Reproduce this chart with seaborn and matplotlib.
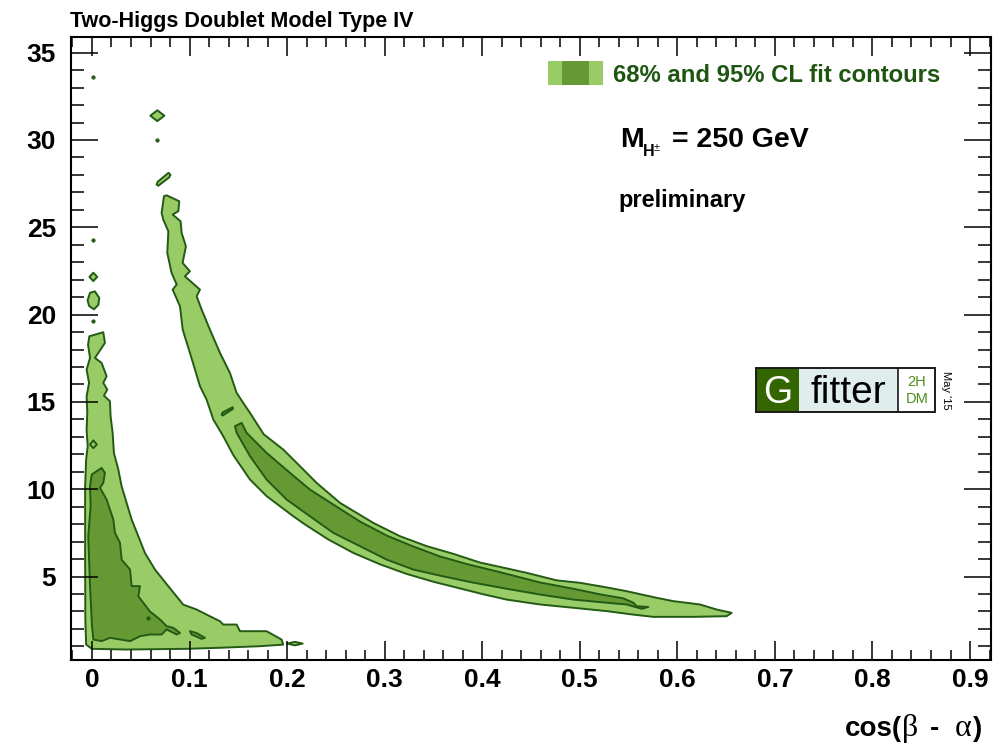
import matplotlib
matplotlib.use("Agg")
import matplotlib.pyplot as plt
import seaborn as sns
from matplotlib.patches import Rectangle
from matplotlib.lines import Line2D
from matplotlib.ticker import MultipleLocator, FixedLocator

# ---------------- data ----------------
xtick_vals = [0.0, 0.1, 0.2, 0.3, 0.4, 0.5, 0.6, 0.7, 0.8, 0.9]
xtick_labels = ["0", "0.1", "0.2", "0.3", "0.4", "0.5", "0.6", "0.7", "0.8", "0.9"]
ytick_vals = [5, 10, 15, 20, 25, 30, 35]
ytick_labels = ["5", "10", "15", "20", "25", "30", "35"]

# 95% CL region near cos(b-a)=0
left95_x = [-0.0027, 0.0116, 0.0133, 0.0031, 0.0099, 0.0150, 0.0116, 0.0157, 0.0123, 0.0184,
            0.0191, 0.0212, 0.0225, 0.0270, 0.0304, 0.0355, 0.0407, 0.0475, 0.0543, 0.0646,
            0.0782, 0.0936, 0.1073, 0.1175, 0.1312, 0.1346, 0.1483, 0.1517, 0.1790, 0.1944,
            0.1960, 0.1720, 0.1312, 0.0970, 0.0355, 0.0000, -0.0060, -0.0068, -0.0070, -0.0070,
            -0.0060, -0.0044, -0.0055, -0.0048, -0.0055, -0.0030, -0.0055, -0.0020, -0.0040]
left95_y = [18.76, 18.99, 18.38, 17.52, 17.23, 16.47, 16.09, 15.71, 15.36, 15.04,
            14.18, 13.22, 12.08, 11.13, 10.17, 9.22, 8.26, 7.31, 6.35, 5.40,
            4.45, 3.39, 3.11, 2.82, 2.44, 2.25, 2.25, 1.87, 1.87, 1.39,
            1.10, 1.01, 0.92, 0.86, 0.82, 0.86, 1.10, 2.54, 6.35, 10.17,
            11.70, 12.46, 13.42, 14.37, 15.32, 16.09, 16.85, 17.52, 18.28]

# 68% CL region near cos(b-a)=0
left68_x = [-0.0003, 0.0099, 0.0133, 0.0116, 0.0082, 0.0150, 0.0219, 0.0236, 0.0287, 0.0304,
            0.0390, 0.0407, 0.0492, 0.0475, 0.0594, 0.0697, 0.0765, 0.0834, 0.0902, 0.0868,
            0.0765, 0.0714, 0.0594, 0.0492, 0.0390, 0.0185, 0.0099, 0.0014, 0.0000, -0.0020,
            -0.0038, -0.0014, -0.0020]
left68_y = [10.84, 11.22, 10.94, 10.36, 10.08, 9.41, 8.26, 7.50, 6.93, 5.97,
            5.40, 4.45, 4.45, 3.87, 3.00, 2.54, 2.16, 2.06, 1.77, 1.68,
            1.97, 1.68, 1.68, 1.58, 1.30, 1.49, 1.30, 1.39, 2.16, 4.45,
            7.31, 9.03, 10.17]

# 95% CL band along the large-cos(b-a) branch
right95_x = [0.0738, 0.0765, 0.0895, 0.0885, 0.0827, 0.0909, 0.0919, 0.0963, 0.0929, 0.1004,
             0.0953, 0.1107, 0.1073, 0.1124, 0.1209, 0.1312, 0.1414, 0.1483, 0.1551, 0.1620,
             0.1760, 0.1961, 0.2132, 0.2303, 0.2542, 0.2884, 0.3157, 0.3431, 0.3704, 0.3977,
             0.4183, 0.4456, 0.4764, 0.5003, 0.5273, 0.5481, 0.5788, 0.5959, 0.6232, 0.6403,
             0.6557, 0.6505, 0.6164, 0.5754, 0.5549, 0.5275, 0.4934, 0.4592, 0.4250, 0.4000,
             0.3750, 0.3500, 0.3225, 0.2952, 0.2680, 0.2423, 0.2184, 0.2064, 0.1791, 0.1620,
             0.1449, 0.1346, 0.1244, 0.1175, 0.1107, 0.1010, 0.0930, 0.0902, 0.0827, 0.0868,
             0.0816, 0.0772, 0.0783, 0.0731, 0.0714]
right95_y = [26.78, 26.83, 26.49, 25.92, 25.73, 25.34, 24.68, 23.91, 22.96, 22.48,
             22.19, 21.43, 21.05, 20.29, 19.14, 17.81, 16.66, 15.52, 14.94, 14.37,
             13.15, 12.27, 11.32, 10.36, 9.22, 8.07, 7.31, 6.74, 6.30, 5.80,
             5.55, 5.21, 4.78, 4.64, 4.38, 4.16, 3.78, 3.59, 3.40, 3.11,
             2.92, 2.73, 2.69, 2.69, 2.82, 3.02, 3.21, 3.40, 3.68, 4.00,
             4.35, 4.70, 5.15, 5.70, 6.35, 7.12, 7.98, 8.45, 9.60, 10.55,
             11.95, 13.03, 13.99, 15.13, 15.90, 17.70, 19.14, 20.48, 21.43, 21.72,
             22.39, 23.53, 24.77, 25.44, 25.82]

# 68% CL band along the large-cos(b-a) branch
right68_x = [0.1466, 0.1534, 0.1585, 0.1790, 0.2029, 0.2234, 0.2508, 0.2747, 0.3020, 0.3294,
             0.3567, 0.3840, 0.4182, 0.4592, 0.4934, 0.5207, 0.5446, 0.5549, 0.5583, 0.5703,
             0.5635, 0.5481, 0.5275, 0.4934, 0.4592, 0.4250, 0.3908, 0.3567, 0.3294, 0.3020,
             0.2747, 0.2474, 0.2234, 0.1995, 0.1790, 0.1620, 0.1483]
right68_y = [13.61, 13.80, 13.23, 12.08, 10.94, 9.98, 9.00, 8.15, 7.35, 6.72,
             6.15, 5.72, 5.25, 4.66, 4.30, 3.98, 3.75, 3.50, 3.30, 3.26,
             3.15, 3.40, 3.50, 3.68, 3.97, 4.30, 4.65, 5.05, 5.40, 5.97,
             6.74, 7.50, 8.45, 9.41, 10.55, 11.89, 13.23]

# small detached 95% islands (x list, y list)
islands95 = [
    ([0.0598, 0.0670, 0.0742, 0.0670], [31.39, 31.70, 31.39, 31.08]),
    ([0.0663, 0.0672, 0.0785, 0.0805, 0.0790, 0.0680], [27.44, 27.60, 28.12, 28.00, 27.85, 27.38]),
    ([-0.0026, 0.0014, 0.0054, 0.0014], [22.16, 22.40, 22.16, 21.92]),
    ([-0.0045, -0.0020, 0.0030, 0.0075, 0.0065, 0.0020, -0.0030],
     [20.82, 21.25, 21.33, 20.95, 20.55, 20.30, 20.50]),
    ([0.2000, 0.2080, 0.2160, 0.2080], [1.16, 1.26, 1.16, 1.06]),
    ([-0.0020, 0.0014, 0.0050, 0.0014], [12.56, 12.80, 12.56, 12.35]),
]
# small detached 68% islands
islands68 = [
    ([0.1004, 0.1070, 0.1158, 0.1124, 0.1021], [1.87, 1.77, 1.49, 1.43, 1.68]),
    ([0.1329, 0.1340, 0.1442, 0.1445, 0.1340], [14.27, 14.40, 14.70, 14.60, 14.22]),
]
# tiny isolated points
dot_x = [0.0014, 0.0014, 0.0670, 0.0014, 0.0577]
dot_y = [33.59, 24.29, 30.00, 19.66, 2.63]

LIGHT = "#99cc66"
DARK = "#669933"
EDGE = "#235a14"
TEXT_GREEN = "#1e5510"

# ---------------- style ----------------
sns.set_style("ticks")
plt.rcParams['font.family'] = ['Liberation Sans', 'DejaVu Sans']
plt.rcParams['text.color'] = 'black'
plt.rcParams['xtick.color'] = 'black'
plt.rcParams['ytick.color'] = 'black'
plt.rcParams['axes.labelcolor'] = 'black'
plt.rcParams['axes.edgecolor'] = 'black'
plt.rcParams['axes.linewidth'] = 1.5

W, H = 993, 747
fig = plt.figure(figsize=(W / 100, H / 100), dpi=100)
fig.patch.set_facecolor("white")


def fx(px):
    return px / W


def fy(py):
    return 1 - py / H


ax = fig.add_axes([fx(70.7), fy(660), (990.7 - 70.7) / W, (660 - 37.3) / H])
ax.set_facecolor("white")
ax.set_axisbelow(False)


def region(xs, ys, fc, z):
    ax.fill(xs, ys, facecolor=fc, edgecolor=EDGE, linewidth=1.4, zorder=z, joinstyle="round")


region(left95_x, left95_y, LIGHT, 1.0)
region(right95_x, right95_y, LIGHT, 1.0)
for xs, ys in islands95:
    region(xs, ys, LIGHT, 1.0)
region(left68_x, left68_y, DARK, 1.1)
region(right68_x, right68_y, DARK, 1.1)
for xs, ys in islands68:
    region(xs, ys, DARK, 1.1)
sns.scatterplot(x=dot_x, y=dot_y, ax=ax, s=7, color=EDGE, edgecolor=EDGE, linewidth=0.3,
                zorder=1.2, legend=False)

ax.set_xlim(-0.0218, 0.9212)
ax.set_ylim(0.22, 35.88)

ax.xaxis.set_major_locator(FixedLocator(xtick_vals))
ax.xaxis.set_minor_locator(MultipleLocator(0.02))
ax.yaxis.set_major_locator(FixedLocator(ytick_vals))
ax.yaxis.set_minor_locator(MultipleLocator(1))
ax.set_xticklabels(xtick_labels, fontsize=19, fontweight="bold", color="black")
ax.set_yticklabels(ytick_labels, fontsize=19, fontweight="bold", color="black")

ax.tick_params(axis="x", which="major", length=13.7, width=1.1, direction="in",
               top=True, bottom=True, pad=6, color="black")
ax.tick_params(axis="x", which="minor", length=7.2, width=1.1, direction="in",
               top=True, bottom=True, color="black")
ax.tick_params(axis="y", which="major", length=19.4, width=1.1, direction="in",
               left=True, right=True, pad=10.5, color="black")
ax.tick_params(axis="y", which="minor", length=9.4, width=1.1, direction="in",
               left=True, right=True, color="black")
for sp in ax.spines.values():
    sp.set_color("black")
    sp.set_linewidth(1.5)
    sp.set_zorder(5)

# axis title, built from pieces right to left: "cos(" beta " - " alpha ")"
renderer = fig.canvas.get_renderer()
xlabel_pieces = [
    (")", dict(fontsize=20, fontweight="bold", family=["Liberation Sans"]), 1),
    ("α", dict(fontsize=23, family=["Liberation Serif"]), 16),
    ("-", dict(fontsize=20, fontweight="bold", family=["Liberation Sans"]), 12),
    ("β", dict(fontsize=23, family=["Liberation Serif"]), -1),
    ("cos(", dict(fontsize=20, fontweight="bold", family=["Liberation Sans"]), 0),
]
xr = 982.0
for txt, kw, gap in xlabel_pieces:
    t = fig.text(fx(xr), fy(735.7), txt, ha="right", va="baseline", color="black", **kw)
    wpx = t.get_window_extent(renderer).width
    xr -= wpx + gap

# title
fig.text(fx(70), fy(27.3), "Two-Higgs Doublet Model Type IV", fontsize=15.5,
         fontweight="bold", ha="left", va="baseline")

# legend
fig.patches.append(Rectangle((fx(548), fy(85)), (603 - 548) / W, 24 / H,
                             transform=fig.transFigure, facecolor=LIGHT, edgecolor="none"))
fig.patches.append(Rectangle((fx(562), fy(85)), (589 - 562) / W, 24 / H,
                             transform=fig.transFigure, facecolor=DARK, edgecolor="none"))
fig.text(fx(613), fy(81.7), "68% and 95% CL fit contours", fontsize=17.2, fontweight="bold",
         color=TEXT_GREEN, ha="left", va="baseline")

# mass label
fig.text(fx(620), fy(146.7), "M", fontsize=20.5, fontweight="bold", ha="left", va="baseline")
fig.text(fx(642.5), fy(156), "H", fontsize=11.5, fontweight="bold", ha="left", va="baseline")
fig.text(fx(654), fy(151), "±", fontsize=8, ha="left", va="baseline")
fig.text(fx(671.7), fy(146.7), "= 250 GeV", fontsize=20.5, fontweight="bold",
         ha="left", va="baseline")
fig.text(fx(618), fy(207.3), "preliminary", fontsize=17, fontweight="bold",
         ha="left", va="baseline")

# Gfitter logo
y0, y1 = 368.3, 411.7
hh = (y1 - y0) / H
fig.patches.append(Rectangle((fx(756), fy(y1)), (799.3 - 756) / W, hh, transform=fig.transFigure,
                             facecolor="#336600", edgecolor="none"))
fig.patches.append(Rectangle((fx(799.3), fy(y1)), (898.3 - 799.3) / W, hh, transform=fig.transFigure,
                             facecolor="#e0eded", edgecolor="none"))
fig.patches.append(Rectangle((fx(898.3), fy(y1)), (935 - 898.3) / W, hh, transform=fig.transFigure,
                             facecolor="white", edgecolor="none"))
fig.patches.append(Rectangle((fx(756), fy(y1)), (935 - 756) / W, hh, transform=fig.transFigure,
                             facecolor="none", edgecolor="#1a1a1a", linewidth=1.4))
fig.lines.append(Line2D([fx(898.3), fx(898.3)], [fy(y0), fy(y1)], transform=fig.transFigure,
                        color="#1a1a1a", linewidth=1.2))
fig.text(fx(777.5), fy(403), "G", fontsize=27, color="white", ha="center", va="baseline")
fig.text(fx(848.5), fy(403.3), "fitter", fontsize=28, color="black", ha="center", va="baseline")
fig.text(fx(916.7), fy(382), "2H", fontsize=10.5, color="#4d8c1a", ha="center", va="center")
fig.text(fx(916.7), fy(399.3), "DM", fontsize=10.5, color="#4d8c1a", ha="center", va="center")
fig.text(fx(945.7), fy(390), "May '15", fontsize=8, color="black", rotation=-90,
         ha="center", va="center")

fig.savefig("out.png", dpi=100, facecolor="white")
